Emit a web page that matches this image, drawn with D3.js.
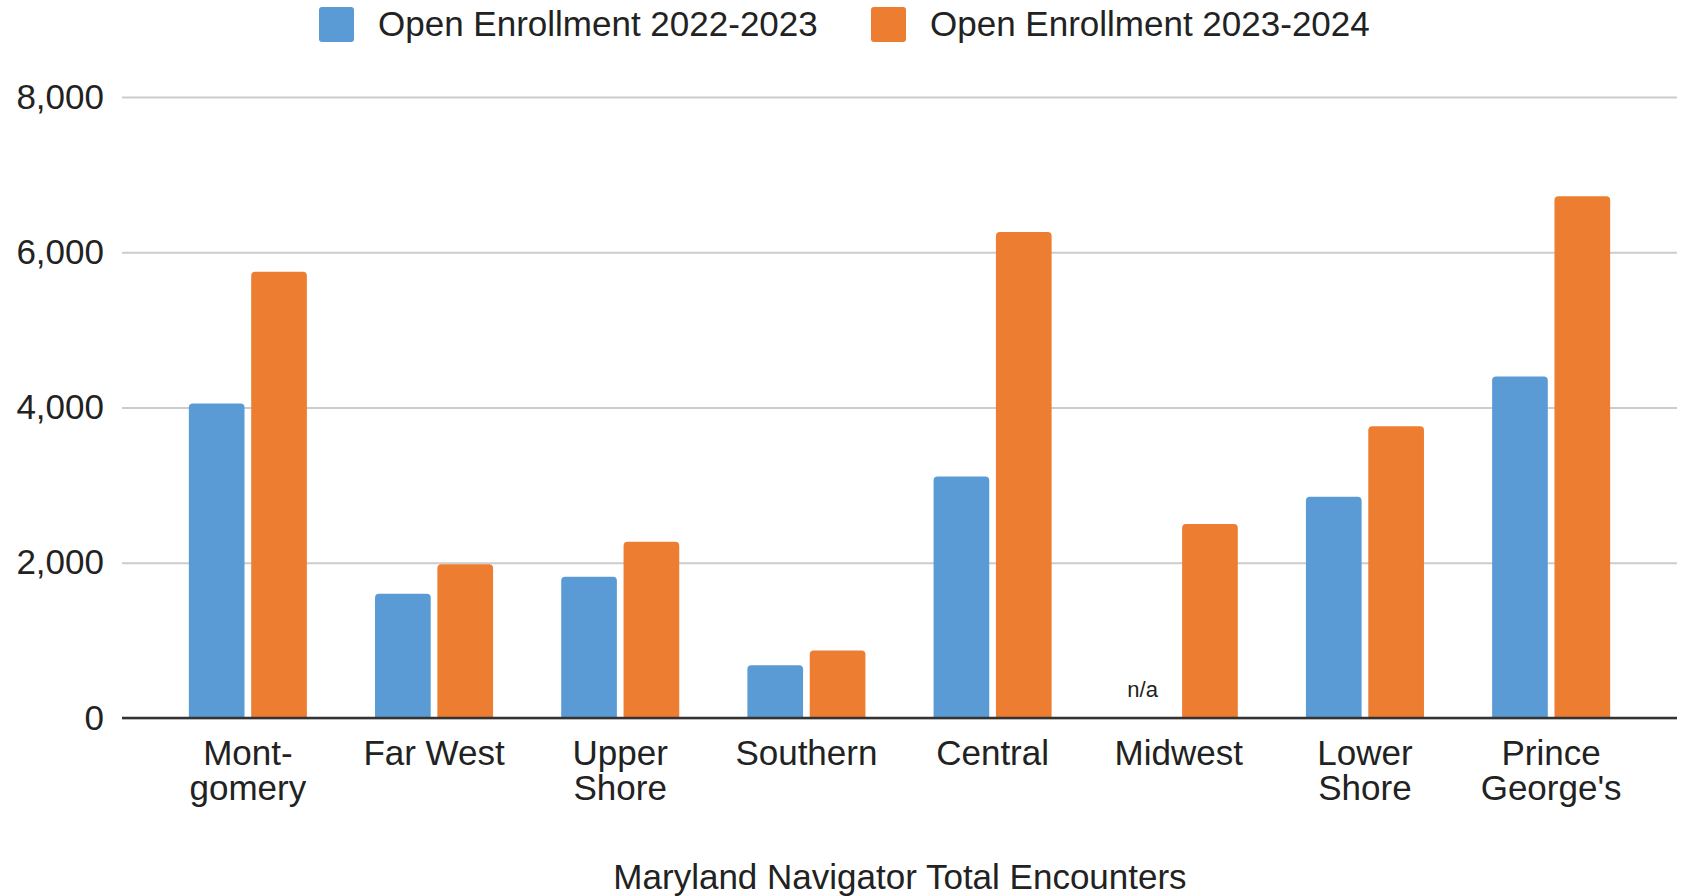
<!DOCTYPE html>
<html>
<head>
<meta charset="utf-8">
<script src="https://cdn.jsdelivr.net/npm/d3@7"></script>
<style>
  html, body { margin: 0; padding: 0; background: #fff; }
  svg text { font-family: "Liberation Sans", Arial, sans-serif; fill: #222; }
</style>
</head>
<body>
<div id="chart"></div>
<script>
// Data
const regions = ['Montgomery', 'Far West', 'Upper Shore', 'Southern', 'Central', 'Midwest', 'Lower Shore', "Prince George's"]
const regionLabels = [['Mont-', 'gomery'], ['Far West'], ['Upper', 'Shore'], ['Southern'], ['Central'], ['Midwest'], ['Lower', 'Shore'], ['Prince', "George's"]]
const seriesNames = ['Open Enrollment 2022-2023', 'Open Enrollment 2023-2024']
const enroll2022 = [4050, 1600, 1820, 680, 3110, null, 2850, 4400]
const enroll2023 = [5750, 1980, 2270, 870, 6260, 2500, 3760, 6720]
const yTicks = [0, 2000, 4000, 6000, 8000]
const colors = ['#5b9bd5', '#ed7d31']

const width = 1686, height = 896
const margin = { top: 97, right: 9, bottom: 178, left: 122 }

const svg = d3.select('#chart').append('svg')
  .attr('width', width).attr('height', height)

const x0 = d3.scaleBand().domain(regions)
  .range([margin.left, width - margin.right])
  .paddingInner(0.366).paddingOuter(0.359)
const x1 = d3.scaleBand().domain(seriesNames)
  .range([0, x0.bandwidth()]).paddingInner(0.107)
const y = d3.scaleLinear().domain([0, 8000]).range([height - margin.bottom, margin.top])

// Gridlines + y labels
const yAxis = svg.append('g')
  .attr('transform', `translate(${margin.left},0)`)
  .call(d3.axisLeft(y).tickValues(yTicks).tickFormat(d3.format(',')).tickSize(-(width - margin.left - margin.right)).tickPadding(18))
yAxis.select('.domain').remove()
yAxis.selectAll('.tick line').attr('stroke', '#cccccc').attr('stroke-width', 2)
yAxis.selectAll('.tick text').style('font-size', '35px').attr('fill', '#222')

// Rounded-top bar path
function barPath(x, yTop, w, yBase, r) {
  r = Math.min(r, (yBase - yTop), w / 2)
  return `M${x},${yBase}V${yTop + r}Q${x},${yTop} ${x + r},${yTop}H${x + w - r}Q${x + w},${yTop} ${x + w},${yTop + r}V${yBase}Z`
}

const series = [enroll2022, enroll2023]
series.forEach((vals, si) => {
  svg.append('g').selectAll('path')
    .data(regions.map((r, i) => ({ r, v: vals[i] })).filter(d => d.v != null))
    .join('path')
    .attr('fill', colors[si])
    .attr('d', d => barPath(x0(d.r) + x1(seriesNames[si]), y(d.v), x1.bandwidth(), y(0), 4))
})

// n/a marker for missing values
regions.forEach((r, i) => {
  if (enroll2022[i] == null) {
    svg.append('text')
      .attr('x', x0(r) + x1(seriesNames[0]) + x1.bandwidth() / 2 - 5)
      .attr('y', y(0) - 29)
      .attr('text-anchor', 'middle').attr('dominant-baseline', 'central')
      .style('font-size', '22px').text('n/a')
  }
})

// Baseline
svg.append('line')
  .attr('x1', margin.left).attr('x2', width - margin.right)
  .attr('y1', y(0)).attr('y2', y(0))
  .attr('stroke', '#333').attr('stroke-width', 2.5)

// X labels
regions.forEach((r, i) => {
  const t = svg.append('text')
    .attr('text-anchor', 'middle')
    .style('font-size', '35px')
  regionLabels[i].forEach((line, li) => {
    t.append('tspan')
      .attr('x', x0(r) + x0.bandwidth() / 2)
      .attr('y', 765 + li * 35)
      .text(line)
  })
})

// X axis title
svg.append('text')
  .attr('x', 900).attr('y', 889)
  .attr('text-anchor', 'middle')
  .style('font-size', '35px')
  .text('Maryland Navigator Total Encounters')

// Legend
const legendItems = [{ name: seriesNames[0], x: 319 }, { name: seriesNames[1], x: 871 }]
legendItems.forEach((d, i) => {
  svg.append('rect')
    .attr('x', d.x).attr('y', 7).attr('width', 35).attr('height', 35)
    .attr('rx', 3).attr('fill', colors[i])
  svg.append('text')
    .attr('x', d.x + 59).attr('y', 36)
    .style('font-size', '35px')
    .text(d.name)
})
</script>
</body>
</html>
